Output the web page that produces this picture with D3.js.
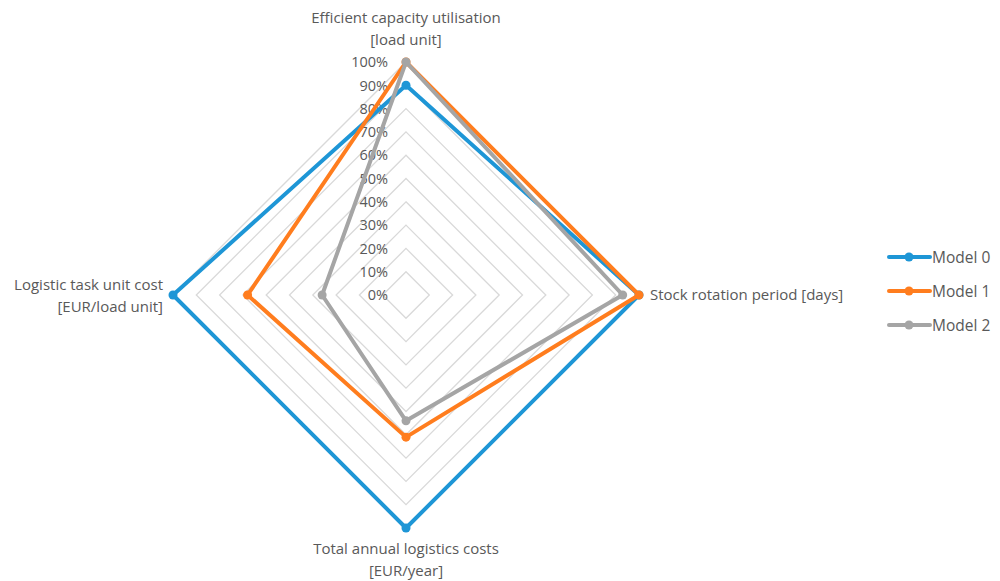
<!DOCTYPE html>
<html><head>
<meta charset="utf-8">
<script src="https://d3js.org/d3.v7.min.js"></script>
<style>
  body { margin: 0; background: #fff; }
  text { font-family: "Open Sans", sans-serif; fill: #595959; }
  .grid { fill: none; stroke: #d9d9d9; stroke-width: 1.3px; }
  .series { fill: none; stroke-width: 4px; stroke-linejoin: round; }
</style>
</head>
<body>
<svg id="radar" width="1000" height="581"></svg>
<script>
  // axes clockwise starting at the top
  const axes = [
    ["Efficient capacity utilisation", "[load unit]"],
    ["Stock rotation period [days]"],
    ["Total annual logistics costs", "[EUR/year]"],
    ["Logistic task unit cost", "[EUR/load unit]"]
  ];
  const seriesNames = ["Model 0", "Model 1", "Model 2"];
  const model0 = [0.90, 1.00, 1.00, 1.00];
  const model1 = [1.00, 1.00, 0.61, 0.68];
  const model2 = [1.00, 0.93, 0.54, 0.36];
  const ticks = [0, 0.1, 0.2, 0.3, 0.4, 0.5, 0.6, 0.7, 0.8, 0.9, 1.0];
  const colors = ["#1e96d6", "#ff7d1e", "#a5a5a5"];

  const svg = d3.select("#radar");
  const cx = 406, cy = 295, radius = 233;

  const r = d3.scaleLinear().domain([0, 1]).range([0, radius]);
  const angle = i => i * Math.PI / 2; // 0 = up, clockwise
  const pt = (i, v) => [cx + r(v) * Math.sin(angle(i)), cy - r(v) * Math.cos(angle(i))];

  const chart = svg.append("g");

  // grid diamonds
  ticks.filter(t => t > 0).forEach(t => {
    chart.append("path")
      .attr("class", "grid")
      .attr("d", d3.line()(axes.map((a, i) => pt(i, t))) + "Z");
  });

  // tick labels
  chart.selectAll(".tick")
    .data(ticks)
    .join("text")
    .attr("class", "tick")
    .attr("x", cx - 18)
    .attr("y", t => cy - r(t))
    .attr("dy", "0.36em")
    .attr("text-anchor", "end")
    .style("font-size", "14.5px")
    .text(d3.format(".0%"));

  // series
  const data = [model0, model1, model2];
  data.forEach((vals, s) => {
    const g = chart.append("g");
    g.append("path")
      .attr("class", "series")
      .attr("stroke", colors[s])
      .attr("d", d3.line()(vals.map((v, i) => pt(i, v))) + "Z");
    g.selectAll("circle")
      .data(vals)
      .join("circle")
      .attr("cx", (v, i) => pt(i, v)[0])
      .attr("cy", (v, i) => pt(i, v)[1])
      .attr("r", 4.5)
      .attr("fill", colors[s]);
  });

  // axis labels
  const labelPos = [
    { x: cx, y: cy - radius - 39, anchor: "middle" },
    { x: cx + radius + 11, y: cy + 5, anchor: "start" },
    { x: cx, y: cy + radius + 26, anchor: "middle" },
    { x: cx - radius - 10, y: cy - 5, anchor: "end" }
  ];
  axes.forEach((lines, i) => {
    const t = chart.append("text")
      .attr("x", labelPos[i].x)
      .attr("y", labelPos[i].y)
      .attr("text-anchor", labelPos[i].anchor)
      .style("font-size", "15px");
    lines.forEach((l, j) => {
      t.append("tspan")
        .attr("x", labelPos[i].x)
        .attr("dy", j === 0 ? 0 : 21.5)
        .text(l);
    });
  });

  // legend
  const legend = svg.append("g").attr("transform", "translate(889,257)");
  seriesNames.forEach((name, s) => {
    const row = legend.append("g").attr("transform", "translate(0," + (s * 34) + ")");
    row.append("line")
      .attr("x1", 0).attr("x2", 41)
      .attr("stroke", colors[s]).attr("stroke-width", 4)
      .attr("stroke-linecap", "round");
    row.append("circle").attr("cx", 20).attr("r", 4.5).attr("fill", colors[s]);
    row.append("text")
      .attr("x", 43).attr("dy", "0.36em")
      .style("font-size", "15.5px")
      .text(name);
  });
</script>
</body>
</html>
